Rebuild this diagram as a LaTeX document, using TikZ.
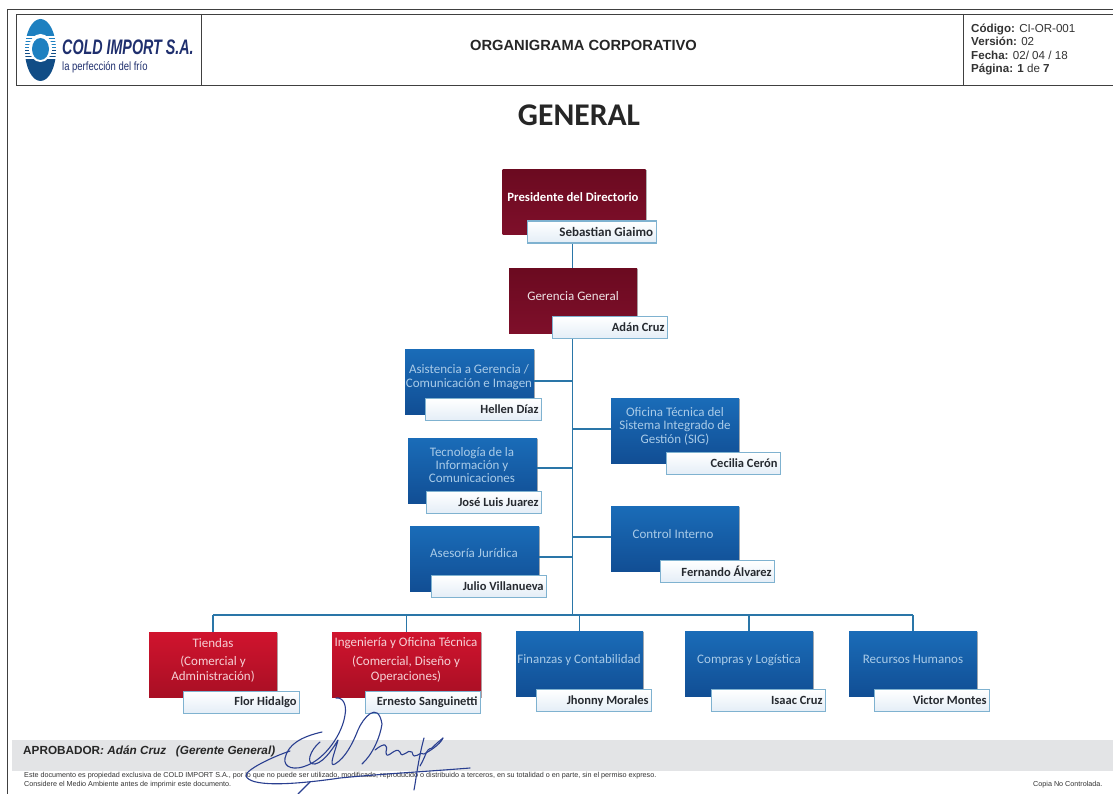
\documentclass[tikz,border=0pt]{standalone}
\usepackage{fontspec}
\usepackage{graphicx}
\setmainfont{Carlito}
\newfontfamily\hel{Liberation Sans}
\usetikzlibrary{shadows}
\definecolor{cblue}{HTML}{1560A8}
\definecolor{cbluet}{HTML}{1A6CB8}
\definecolor{cblueb}{HTML}{114E94}
\definecolor{cdark}{HTML}{6B0A20}
\definecolor{cdarkb}{HTML}{7E0F2A}
\definecolor{cred}{HTML}{D0142E}
\definecolor{credb}{HTML}{A80F24}
\definecolor{cline}{HTML}{2A76A8}
\definecolor{nborder}{HTML}{7FB2D0}
\definecolor{ink}{HTML}{262A30}
\definecolor{lighttxt}{HTML}{A9CBE8}
\definecolor{band}{HTML}{E3E4E6}
\definecolor{navy}{HTML}{1F2F6E}
\definecolor{logob}{HTML}{1E80C0}
\definecolor{sig}{HTML}{2A3F90}
\tikzset{
  x=1pt,y=-1pt,
  bluebox/.style={rectangle,inner sep=0pt,top color=cbluet,bottom color=cblueb},
  darkbox/.style={rectangle,inner sep=0pt,top color=cdark,bottom color=cdarkb},
  redbox/.style={rectangle,inner sep=0pt,top color=cred,bottom color=credb},
  nameplate/.style={rectangle,draw=nborder,line width=1.3pt,top color=white,bottom color=white!88!cbluet,inner sep=0pt,
     general shadow={fill=black!25,shadow xshift=0.8pt,shadow yshift=-0.8pt}},
  boxtext/.style={align=center,font=\fontsize{13}{14}\selectfont,inner sep=0pt},
  nametext/.style={font=\fontsize{12.5}{14}\selectfont\bfseries,text=ink,inner sep=0pt,anchor=east},
  conn/.style={draw=cline,line width=1.5pt},
  frameline/.style={draw=black!75,line width=0.8pt},
  sigline/.style={draw=sig,line width=1.1pt,line cap=round,line join=round},
  small/.style={font=\hel\fontsize{7.2}{8}\selectfont,text=black!80,inner sep=0pt,anchor=west}
}
\newcommand{\orgbox}[4]{%
  \node[#2,minimum width=#4pt,minimum height=65pt,anchor=north west,
       general shadow={fill=black!30,shadow xshift=0.8pt,shadow yshift=-0.8pt}] (#1) at #3 {};
}
\newcommand{\plate}[4]{%
  \node[nameplate,minimum width=#3pt,minimum height=22pt,anchor=north west] (#1) at #2 {};
  \node[nametext] (#1t) at ([xshift=-3.5pt]#1.east) {#4};
}
\begin{document}
\begin{tikzpicture}
\useasboundingbox (0,0) rectangle (1113,794);
\fill[white] (0,0) rectangle (1113,794);

% page frame and header
\draw[frameline] (1113,9) -- (7,9) -- (7,794);
\draw[frameline,line width=0.6pt] (1113,14) -- (16,14) -- (16,85) -- (1113,85);
\draw[frameline,line width=0.6pt] (201,14) -- (201,85);
\draw[frameline,line width=0.6pt] (963,14) -- (963,85);

% logo
\fill[cblue!80!black] (25,50) arc[start angle=180,end angle=0,x radius=15.5,y radius=31] -- cycle;
\fill[logob] (25,50) arc[start angle=180,end angle=360,x radius=15.5,y radius=31] -- cycle;
\foreach \yy in {36.5,39.5,42.5,45.5,48.5,51.5,54.5,57.5}
  \fill[white] (22,\yy) rectangle (58,\yy+1.2);
\fill[white] (40.5,48) ellipse[x radius=11.5,y radius=14];
\fill[logob] (40.5,49) ellipse[x radius=8.5,y radius=11];
\node[inner sep=0pt,anchor=west,text=navy,font=\hel\fontsize{21}{24}\selectfont\bfseries\itshape] (logoname) at (62,47) {\scalebox{0.68}[1]{COLD IMPORT S.A.}};
\node[inner sep=0pt,anchor=west,text=navy,font=\hel\fontsize{12}{14}\selectfont] (logotag) at (62,67) {\scalebox{0.79}[1]{la perfección del frío}};

% header text
\node[inner sep=0pt,font=\hel\fontsize{14.7}{17}\selectfont\bfseries,text=black!85] (doctitle) at (583.5,45) {ORGANIGRAMA CORPORATIVO};
\node[inner sep=0pt,anchor=north west,align=left,font=\hel\fontsize{11.6}{13.2}\selectfont,text=black!80] (docinfo) at (971,24)
  {\textbf{Código:} CI-OR-001\\\textbf{Versión:} 02\\\textbf{Fecha:} 02/ 04 / 18\\\textbf{Página: 1} de \textbf{7}};
\node[inner sep=0pt,font=\fontsize{31.6}{36}\selectfont\bfseries,text=black!85] (title) at (579,115) {GENERAL};

% footer band
\fill[band] (12,740) rectangle (1113,771);

% connectors
\coordinate (trunk) at (572.5,0);
\coordinate (busy) at (0,615);
\coordinate (tasist) at (0,381);
\coordinate (ttec) at (0,468);
\coordinate (tases) at (0,557);
\coordinate (tofi) at (0,429);
\coordinate (tcon) at (0,537);

% upper boxes
\orgbox{pres}{darkbox}{(502.5,169)}{143}
\orgbox{gg}{darkbox}{(509,268)}{128}
\orgbox{asist}{bluebox}{(405,349)}{129}
\orgbox{tec}{bluebox}{(408,438)}{129}
\orgbox{ases}{bluebox}{(410,526)}{129}
\orgbox{ofi}{bluebox}{(611,398)}{128}
\orgbox{con}{bluebox}{(611,506)}{128}
\orgbox{tie}{redbox}{(149,632)}{128}
\orgbox{ing}{redbox}{(332,632)}{149}
\orgbox{fin}{bluebox}{(516,631)}{127}
\orgbox{com}{bluebox}{(685,631)}{128}
\orgbox{rrh}{bluebox}{(849,631)}{128}

% box titles
\node[boxtext,text=white,font=\fontsize{12.7}{14}\selectfont\bfseries] (prest) at (573,197) {Presidente del Directorio};
\node[boxtext,text=white!88!cdark] (ggt) at (573,296) {Gerencia General};
\node[boxtext,text=lighttxt,font=\fontsize{13}{14}\selectfont] (asistt) at (469,377) {Asistencia a Gerencia /\\Comunicación e Imagen};
\node[boxtext,text=lighttxt,font=\fontsize{13}{13.2}\selectfont] (tect) at (472,465) {Tecnología de la\\Información y\\Comunicaciones};
\node[boxtext,text=lighttxt] (asest) at (474,553) {Asesoría Jurídica};
\node[boxtext,text=lighttxt,font=\fontsize{13}{13.4}\selectfont] (ofit) at (675,426) {Oficina Técnica del\\Sistema Integrado de\\Gestión (SIG)};
\node[boxtext,text=lighttxt] (cont) at (673,534) {Control Interno};
\node[boxtext,text=white!80!cred] (tiet1) at (213,643) {Tiendas};
\node[boxtext,text=white!80!cred,font=\fontsize{13}{15}\selectfont] (tiet2) at (213,669.5) {(Comercial y\\Administración)};
\node[boxtext,text=white!80!cred] (ingt1) at (406,643) {Ingeniería y Oficina Técnica};
\node[boxtext,text=white!80!cred,font=\fontsize{13}{15}\selectfont] (ingt2) at (406,669.5) {(Comercial, Diseño y\\Operaciones)};
\node[boxtext,text=lighttxt] (fint) at (579,660) {Finanzas y Contabilidad};
\node[boxtext,text=lighttxt] (comt) at (749,660) {Compras y Logística};
\node[boxtext,text=lighttxt] (rrht) at (913,659) {Recursos Humanos};

% name plates
\plate{presn}{(526.5,220.5)}{129}{\fontsize{13}{14}\selectfont Sebastian Giaimo}
\plate{ggn}{(552,316)}{115}{Adán Cruz}
\plate{asistn}{(425,398)}{116}{Hellen Díaz}
\plate{tecn}{(426,491)}{115}{José Luis Juarez}
\plate{asesn}{(431,575)}{115}{Julio Villanueva}
\plate{ofin}{(666,452)}{114}{Cecilia Cerón}
\plate{conn}{(660,560)}{114}{Fernando Álvarez}
\plate{tien}{(183,691)}{116}{Flor Hidalgo}
\plate{ingn}{(365,691)}{115}{Ernesto Sanguinetti}
\plate{finn}{(536,689)}{115}{Jhonny Morales}
\plate{comn}{(711,689)}{114}{Isaac Cruz}
\plate{rrhn}{(874,689)}{115}{Victor Montes}

% tree
\draw[conn] (trunk |- presn.south) -- (trunk |- gg.north);
\draw[conn] (trunk |- ggn.south) -- (trunk |- busy);
\draw[conn] (asist.east |- tasist) -- (trunk |- tasist);
\draw[conn] (tec.east |- ttec) -- (trunk |- ttec);
\draw[conn] (ases.east |- tases) -- (trunk |- tases);
\draw[conn] (ofi.west |- tofi) -- (trunk |- tofi);
\draw[conn] (con.west |- tcon) -- (trunk |- tcon);
\draw[conn] (tie.north |- busy) -- (rrh.north |- busy);
\draw[conn] (tie.north |- busy) -- (tie.north);
\draw[conn] (ing.north |- busy) -- (ing.north);
\draw[conn] (fin.north |- busy) -- (fin.north);
\draw[conn] (com.north |- busy) -- (com.north);
\draw[conn] (rrh.north |- busy) -- (rrh.north);

% footer text
\node[inner sep=0pt,anchor=west,font=\hel\fontsize{11.75}{14}\selectfont\bfseries,text=black!85] (aprob) at (23,751) {APROBADOR\textit{: Adán Cruz\ \ \ (Gerente General)}};
\node[small] (legal1) at (24,776) {Este documento es propiedad exclusiva de COLD IMPORT S.A., por lo que no puede ser utilizado, modificado, reproducido o distribuido a terceros, en su totalidad o en parte, sin el permiso expreso.};
\node[small] (legal2) at (24,785) {Considere el Medio Ambiente antes de imprimir este documento.};
\node[small] (copia) at (1033,785) {Copia No Controlada.};

% signature
\draw[sigline] (336,698) .. controls (343,697) and (347,705) .. (345,715) .. controls (342,735) and (325,758) .. (308,765)
  .. controls (295,771) and (283,768) .. (285,758) .. controls (288,745) and (300,737) .. (322,732);
\draw[sigline] (320,742) .. controls (310,750) and (305,765) .. (315,764) .. controls (325,762) and (335,745) .. (338,740)
  .. controls (335,752) and (328,768) .. (335,764) .. controls (345,758) and (352,745) .. (358,730)
  .. controls (363,718) and (378,700) .. (382,724) .. controls (380,738) and (372,755) .. (362,764);
\draw[sigline] (375,750) .. controls (385,742) and (388,744) .. (386,752) .. controls (386,762) and (396,745) .. (400,752)
  .. controls (402,760) and (408,748) .. (412,752) .. controls (414,762) and (420,750) .. (424,754)
  .. controls (428,752) and (440,745) .. (443,738);
\draw[sigline] (420,766) .. controls (428,752) and (425,750) .. (432,748) .. controls (440,740) and (435,745) .. (443,738);
\draw[sigline] (424,738) .. controls (418,760) and (416,780) .. (414,790);
\draw[sigline] (290,751) .. controls (272,757) and (245,770) .. (246,776) .. controls (250,786) and (285,786) .. (340,778)
  .. controls (380,774) and (420,772) .. (470,768);
\draw[sigline] (310,782) -- (298,794);
\end{tikzpicture}
\end{document}
